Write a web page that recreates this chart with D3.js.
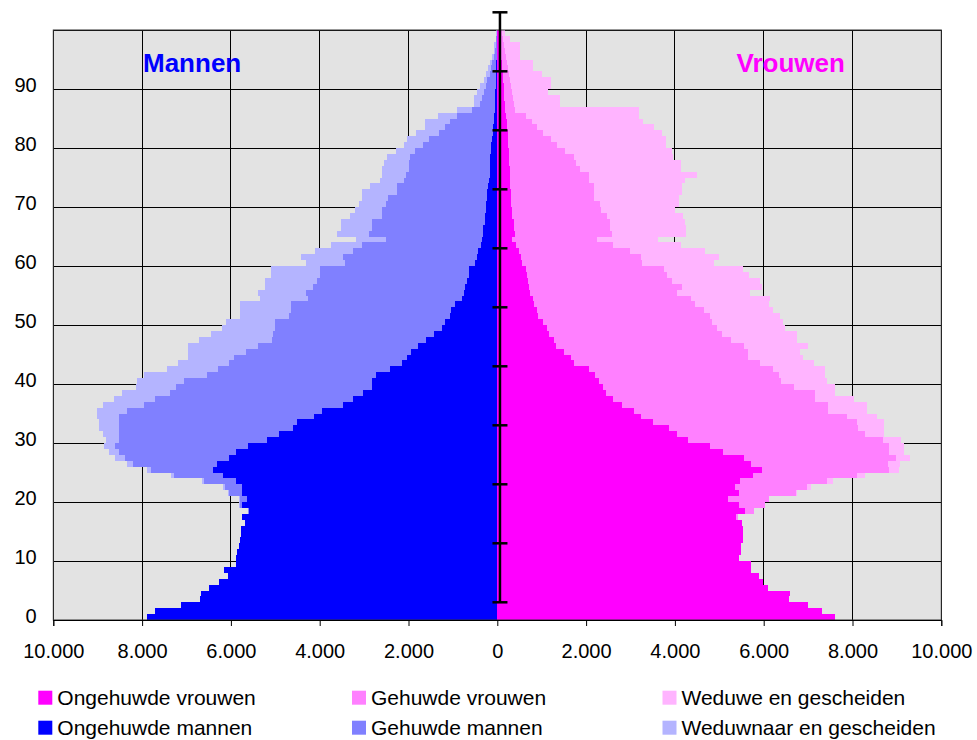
<!DOCTYPE html>
<html><head><meta charset="utf-8">
<script src="https://cdn.jsdelivr.net/npm/d3@7"></script>
<style>body{margin:0;background:#fff;}svg{display:block;font-family:"Liberation Sans",Arial,sans-serif;}</style>
</head><body><svg id="c" width="977" height="740"></svg>
<script>
// ages 0..99
const ages = d3.range(0, 100);
const menUnmarried = [7900,7720,7130,6700,6680,6500,6270,6070,6160,5890,5880,5870,5820,5800,5780,5780,5690,5750,5600,5750,
5640,5740,5750,5890,6180,6410,6320,6050,5890,5620,5190,4920,4610,4520,4130,3940,3480,3250,3030,2820,
2820,2730,2420,2150,2040,1950,1790,1610,1430,1250,1180,1070,1040,950,800,750,730,680,640,640,
500,460,440,370,350,320,320,280,280,260,255,240,230,210,190,170,160,160,160,150,
140,120,100,90,80,70,60,55,50,45,40,35,30,25,20,15,12,10,8,5];
const menMarried = [0,0,0,0,0,0,0,0,0,0,0,0,0,0,0,0,0,0,20,50,
160,300,390,720,1110,1400,1890,2340,2640,2980,3340,3610,3920,4010,4400,4400,4480,4470,4350,4420,
4240,3810,3880,3900,3900,3710,3600,3470,3630,3760,3830,3630,3610,3700,3470,3550,3420,3390,3360,3360,
2930,3010,2810,2680,2160,2570,2500,2540,2320,2340,2255,2230,2030,2050,1910,1880,1840,1820,1810,1700,
1540,1410,1210,1090,990,830,500,340,300,260,220,190,140,120,90,70,40,30,12,10];
const menWidowed = [0,0,0,0,0,0,0,0,0,0,0,0,0,0,0,0,0,0,0,20,
20,20,40,50,60,90,140,210,220,260,290,350,440,450,490,680,920,920,1080,900,
1060,1420,1150,1150,1030,1310,1580,1640,1390,1200,1110,1100,1150,1150,1080,1090,1080,1160,1100,1100,
870,950,850,700,680,720,700,700,720,610,610,580,790,610,550,550,600,580,510,430,
420,500,530,450,560,430,340,120,170,160,130,80,90,60,50,30,20,30,10,15];
const womenUnmarried = [7610,7320,7000,6580,6600,6100,5990,5900,5720,5720,5450,5490,5490,5540,5540,5540,5520,5380,5580,5450,
5200,5450,5360,5470,5760,5970,5720,5560,5090,4790,4300,4050,3870,3510,3240,3080,2810,2610,2450,2380,
2290,2200,2070,1730,1660,1500,1320,1280,1170,1120,1030,920,900,830,810,740,720,690,670,650,
560,530,490,420,330,400,380,380,330,330,310,305,300,295,290,285,275,265,260,255,
250,240,230,220,210,195,175,170,160,150,140,130,120,110,100,90,80,70,60,50];
const womenMarried = [0,0,0,0,0,0,0,0,0,0,0,0,0,0,0,0,0,40,210,580,
920,1280,1620,1960,2350,2860,3090,3430,3740,4040,4390,4240,4260,4600,4640,4370,4640,4550,4710,4310,
4100,4150,4140,4190,3990,4150,4240,3990,3900,3830,3810,3870,3760,3630,3560,3310,3440,3250,3160,3110,
2700,2710,2500,2190,1920,2190,2150,2150,2150,2010,2000,1875,1880,1885,1780,1785,1585,1505,1470,1270,
1100,980,810,680,570,450,220,210,190,180,160,150,140,130,120,110,100,90,70,50];
const womenWidowed = [0,0,0,0,0,0,0,0,0,0,0,0,0,0,0,0,0,0,0,0,
10,30,90,140,180,220,270,310,340,340,410,430,590,610,680,880,880,880,450,920,
1040,1040,1170,1220,1240,1170,1440,1490,1690,1530,1590,1580,1550,1650,1780,1650,1800,1980,1830,1780,
1620,1760,1690,1530,1380,1650,1720,1700,1700,1670,1790,1920,1980,1980,2160,2430,2280,2370,2230,2410,
2450,2580,2670,2620,2510,2540,2790,1030,1060,820,900,920,740,570,590,310,330,350,160,80];

const xTicks = [-10000,-8000,-6000,-4000,-2000,0,2000,4000,6000,8000,10000];
const yTicks = [0,10,20,30,40,50,60,70,80,90];
const markerTicks = [3,13,23,33,43,53,63,73,83,93,103];
const markerValue = 60;

const legendRows = [
  [{label:"Ongehuwde vrouwen", color:"#FF00FF"},{label:"Gehuwde vrouwen", color:"#FF80FF"},{label:"Weduwe en gescheiden", color:"#FFB4FF"}],
  [{label:"Ongehuwde mannen", color:"#0000FF"},{label:"Gehuwde mannen", color:"#8080FF"},{label:"Weduwnaar en gescheiden", color:"#B4B4FF"}]
];

const svg = d3.select("#c");
const x = d3.scaleLinear().domain([-10000, 10000]).range([53.3, 941.3]);
const y = d3.scaleLinear().domain([0, 100]).range([620, 30]);

svg.append("rect").attr("x", x(-10000)).attr("y", y(100)).attr("width", x(10000)-x(-10000)).attr("height", y(0)-y(100)).attr("fill", "#E3E3E3");

const grid = svg.append("g").attr("stroke", "#000").attr("stroke-width", 1).attr("shape-rendering","crispEdges");
grid.selectAll("line.v").data(xTicks).join("line").attr("x1", d=>x(d)).attr("x2", d=>x(d)).attr("y1", y(0)).attr("y2", y(100));
grid.selectAll("line.h").data(d3.range(0,101,10)).join("line").attr("y1", d=>y(d)).attr("y2", d=>y(d)).attr("x1", x(-10000)).attr("x2", x(10000));

const series = [
  {side:-1, vals:[menUnmarried, menMarried, menWidowed], colors:["#0000FF","#8080FF","#B4B4FF"]},
  {side: 1, vals:[womenUnmarried, womenMarried, womenWidowed], colors:["#FF00FF","#FF80FF","#FFB4FF"]}
];
const bars = svg.append("g").attr("shape-rendering","crispEdges");
series.forEach(s => {
  ages.forEach((a,i) => {
    let c0 = 0;
    s.vals.forEach((arr, k) => {
      const c1 = c0 + arr[i];
      if (arr[i] > 0) {
        const xa = x(s.side*c0), xb = x(s.side*c1);
        bars.append("rect").attr("x", Math.min(xa,xb)).attr("width", Math.abs(xb-xa))
          .attr("y", y(a+1)).attr("height", y(a)-y(a+1)).attr("fill", s.colors[k]);
      }
      c0 = c1;
    });
  });
});

svg.append("rect").attr("x", x(-10000)).attr("y", y(100)).attr("width", x(10000)-x(-10000)).attr("height", y(0)-y(100))
  .attr("fill","none").attr("stroke","#333").attr("stroke-width",1);

const mx = x(markerValue);
svg.append("line").attr("x1", mx).attr("x2", mx).attr("y1", y(3)).attr("y2", y(103)).attr("stroke","#000").attr("stroke-width",2.5);
svg.selectAll("line.mt").data(markerTicks).join("line").attr("class","mt")
  .attr("x1", mx-7.5).attr("x2", mx+7.5).attr("y1", d=>y(d)).attr("y2", d=>y(d)).attr("stroke","#000").attr("stroke-width",2.5);

const fmt = d => Math.abs(d) === 0 ? "0" : d3.format(",")(Math.abs(d)).replace(/,/g, ".");
const xAxis = svg.append("g").attr("transform", `translate(0,${y(0)})`)
  .call(d3.axisBottom(x).tickValues(xTicks).tickSize(6).tickPadding(0).tickFormat(fmt));
xAxis.select(".domain").attr("stroke","#000");
xAxis.selectAll(".tick line").attr("stroke","#000");
xAxis.selectAll(".tick text").attr("font-size", 20).attr("font-family","'Liberation Sans', Arial, sans-serif")
  .attr("fill","#000").attr("dy", null).attr("y", 38);

svg.append("g").selectAll("text").data(yTicks).join("text")
  .attr("x", 36.7).attr("y", d=>y(d)+3.2).attr("text-anchor","end").attr("font-size",20).attr("fill","#000").text(d=>d);

svg.append("text").attr("x",143).attr("y",71.5).attr("font-size",26).attr("font-weight","bold").attr("fill","#0000FF").text("Mannen");
svg.append("text").attr("x",736.5).attr("y",71.5).attr("font-size",26).attr("font-weight","bold").attr("fill","#FF00FF").text("Vrouwen");

const colX = [38.3, 352, 662.5];
const rowY = [690.7, 720.7];
legendRows.forEach((row, r) => {
  row.forEach((item, c) => {
    svg.append("rect").attr("x", colX[c]).attr("y", rowY[r]).attr("width",14).attr("height",14).attr("fill", item.color);
    svg.append("text").attr("x", colX[c]+19).attr("y", rowY[r]+13.8).attr("font-size",21).attr("fill","#000").text(item.label);
  });
});
</script></body></html>
